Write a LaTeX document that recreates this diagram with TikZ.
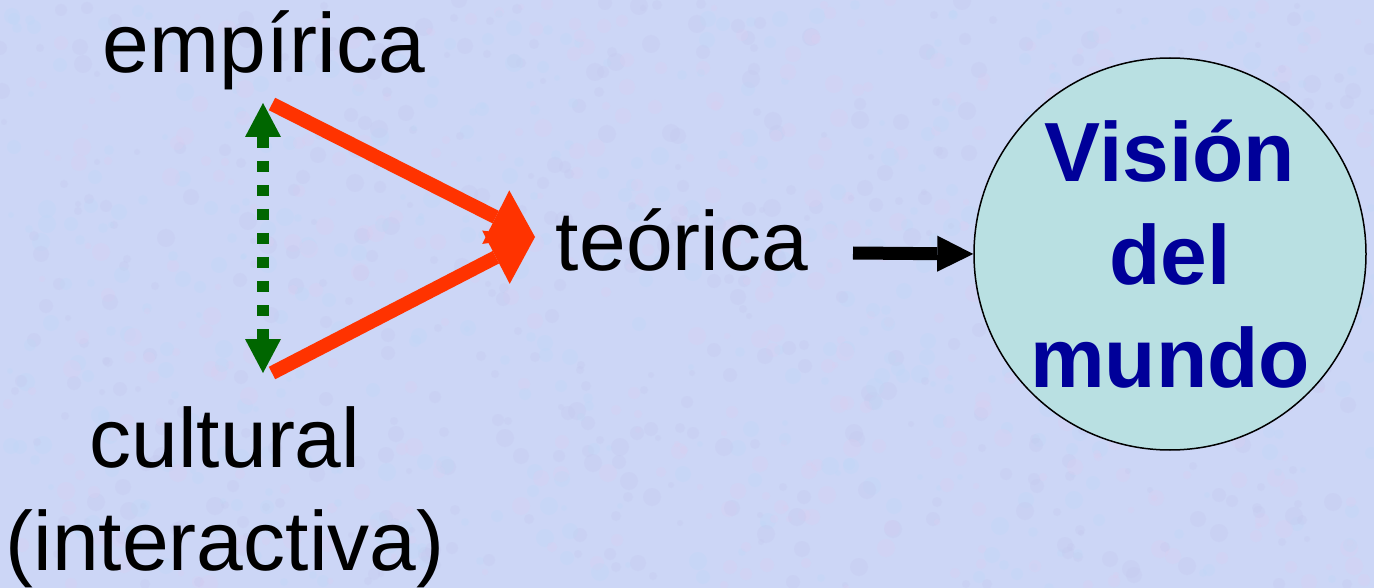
\documentclass[tikz,border=0pt]{standalone}
\usepackage{fontspec}
\setmainfont{Liberation Sans}
\usetikzlibrary{arrows.meta}
\definecolor{bgcol}{RGB}{204,214,246}
\definecolor{mottA}{RGB}{220,206,240}
\definecolor{mottB}{RGB}{190,216,246}
\definecolor{mottC}{RGB}{196,200,238}
\definecolor{redarr}{RGB}{255,51,0}
\definecolor{greenarr}{RGB}{0,102,0}
\definecolor{circfill}{RGB}{185,224,226}
\definecolor{textblue}{RGB}{0,0,153}
\tikzset{
  lbl/.style={inner sep=0pt, anchor=base, font=\fontsize{84}{103}\selectfont, text=black},
  redline/.style={draw=redarr, line width=14pt, -{Triangle[length=44pt,width=60pt,line width=0pt]}},
  greenline/.style={draw=greenarr, line width=12pt, dash pattern=on 11pt off 13pt,
     {Triangle[length=34pt,width=36pt,line width=0pt]}-{Triangle[length=34pt,width=36pt,line width=0pt]}},
  blackline/.style={draw=black, line width=13pt, -{Triangle[length=36pt,width=36pt,line width=0pt]}},
  world/.style={circle, draw=black, line width=1.5pt, fill=circfill, minimum size=392pt,
     inner sep=0pt, align=center, text=textblue, font=\fontsize{84}{103}\selectfont\bfseries}
}
\begin{document}
\begin{tikzpicture}[x=1pt,y=-1pt]
\useasboundingbox (0,0) rectangle (1374,588);
\begin{scope}
\clip (0,0) rectangle (1374,588);
\fill[bgcol] (0,0) rectangle (1374,588);
\pgfmathsetseed{7}
\foreach \i in {1,...,1400}{
  \pgfmathsetmacro{\px}{random(0,1374)}
  \pgfmathsetmacro{\py}{random(0,588)}
  \pgfmathsetmacro{\pr}{random(3,9)}
  \pgfmathtruncatemacro{\pc}{random(1,3)}
  \ifcase\pc\or
    \fill[mottA, opacity=0.3] (\px,\py) circle[radius=\pr];
  \or
    \fill[mottB, opacity=0.3] (\px,\py) circle[radius=\pr];
  \or
    \fill[mottC, opacity=0.3] (\px,\py) circle[radius=\pr];
  \fi
}
\end{scope}
\node[lbl] (emp) at (264,73) {empírica};
\node[lbl] (teo) at (682,270) {teórica};
\node[lbl, align=center] (cul) at (225,570) {cultural\\(interactiva)};
\node[world] (vis) at (1170,254) {Visión\\del\\mundo};
\coordinate (e1) at (272,104);
\coordinate (c1) at (272,373);
\coordinate (tip) at (535,237);
\coordinate (gtop) at (263,103);
\coordinate (gbot) at (263,373);
\coordinate (b1) at (853,253);
\draw[redline] (e1) -- (tip);
\draw[redline] (c1) -- (tip);
\draw[greenline] (gtop) -- (gbot);
\draw[blackline] (b1) -- (vis.west);
\end{tikzpicture}
\end{document}
